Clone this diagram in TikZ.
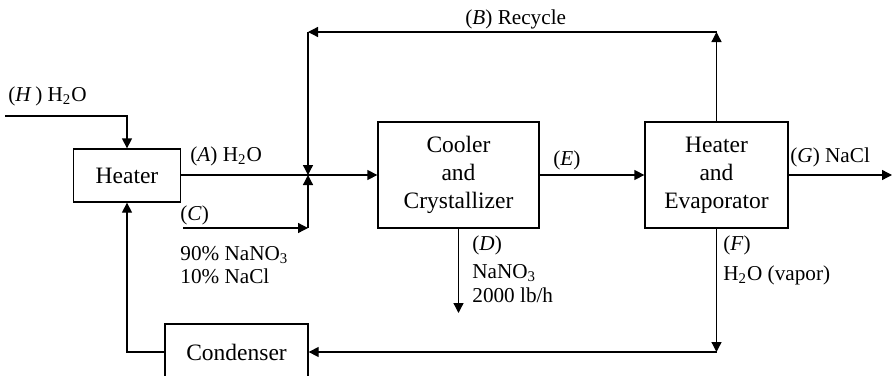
\documentclass[tikz,border=0pt]{standalone}
\usepackage{fontspec}
\setmainfont{Liberation Serif}
\usetikzlibrary{arrows.meta,positioning}
\tikzset{
  >={Triangle[length=5pt,width=5pt]},
  font=\fontsize{11.75}{14}\selectfont,
  unit/.style ={draw, line width=0.65pt, align=center, inner sep=0pt},
  flow/.style ={->, line width=0.65pt},
  pipe/.style ={line width=0.65pt},
  lbl/.style  ={inner sep=0pt, font=\fontsize{10.6}{13}\selectfont},
}

\begin{document}
\begin{tikzpicture}[x=0.5pt, y=-0.5pt]
  \useasboundingbox (0,0) rectangle (893,375);
  % process units
  \node[unit, minimum width=53.5pt, minimum height=26.5pt] (heater) at (127,175.5) {Heater};
  \node[unit, minimum width=80.5pt, minimum height=53pt] (cooler) at (458.5,175) {Cooler\\and\\Crystallizer};
  \node[unit, minimum width=71.5pt, minimum height=53pt] (evap) at (716.5,175) {Heater\\and\\Evaporator};
  \node[unit, minimum width=71.5pt, minimum height=28pt] (cond) at (236.5,352) {Condenser};
  % stream corners
  \coordinate (hin) at (5,116);
  \coordinate (junc) at (308,175);
  \coordinate (rtop) at (716.5,32);
  \coordinate (rleft) at (308,32);
  \coordinate (cin) at (183,228);
  \coordinate (cbend) at (308,228);
  \coordinate (dout) at (458.5,313);
  \coordinate (fbend) at (716.5,352);
  \coordinate (gout) at (892,175);
  % streams
  \draw[flow] (hin) -| (heater.north);
  \draw[pipe] (heater.east |- junc) -- (junc);
  \draw[flow] (junc) -- (cooler.west);
  \draw[flow] (evap.north) -- (rtop);
  \draw[flow] (rtop) -- (rleft);
  \draw[flow] (rleft) -- (junc);
  \draw[flow] (cin) -- (cbend);
  \draw[flow] (cbend) -- (junc);
  \draw[flow] (cooler.east) -- (evap.west);
  \draw[flow] (evap.east) -- (gout);
  \draw[flow] (cooler.south) -- (dout);
  \draw[flow] (evap.south) -- (fbend);
  \draw[flow] (fbend) -- (cond.east);
  \draw[flow] (cond.west) -| (heater.south);
  % stream labels
  \node[lbl, anchor=base west] (hlbl) at (8,101) {(\textit{H}\,) H\textsubscript{2}O};
  \node[lbl, anchor=base west] (albl) at (190,161) {(\textit{A}) H\textsubscript{2}O};
  \node[lbl, anchor=base west] (blbl) at (465,25) {(\textit{B}) Recycle};
  \node[lbl, anchor=base west] (elbl) at (553,165) {(\textit{E})};
  \node[lbl, anchor=base west] (glbl) at (790,162) {(\textit{G}) NaCl};
  \node[lbl, anchor=base west] (clbl) at (180,220) {(\textit{C})};
  \node[lbl, anchor=base west] (cna) at (180,260) {90\% NaNO\textsubscript{3}};
  \node[lbl, anchor=base west] (ccl) at (180,283) {10\% NaCl};
  \node[lbl, anchor=base west] (dlbl) at (472,250) {(\textit{D})};
  \node[lbl, anchor=base west] (dna) at (472,278) {NaNO\textsubscript{3}};
  \node[lbl, anchor=base west] (drate) at (472,302) {2000 lb/h};
  \node[lbl, anchor=base west] (flbl) at (723,250) {(\textit{F})};
  \node[lbl, anchor=base west] (fvap) at (723,280) {H\textsubscript{2}O (vapor)};
\end{tikzpicture}
\end{document}
